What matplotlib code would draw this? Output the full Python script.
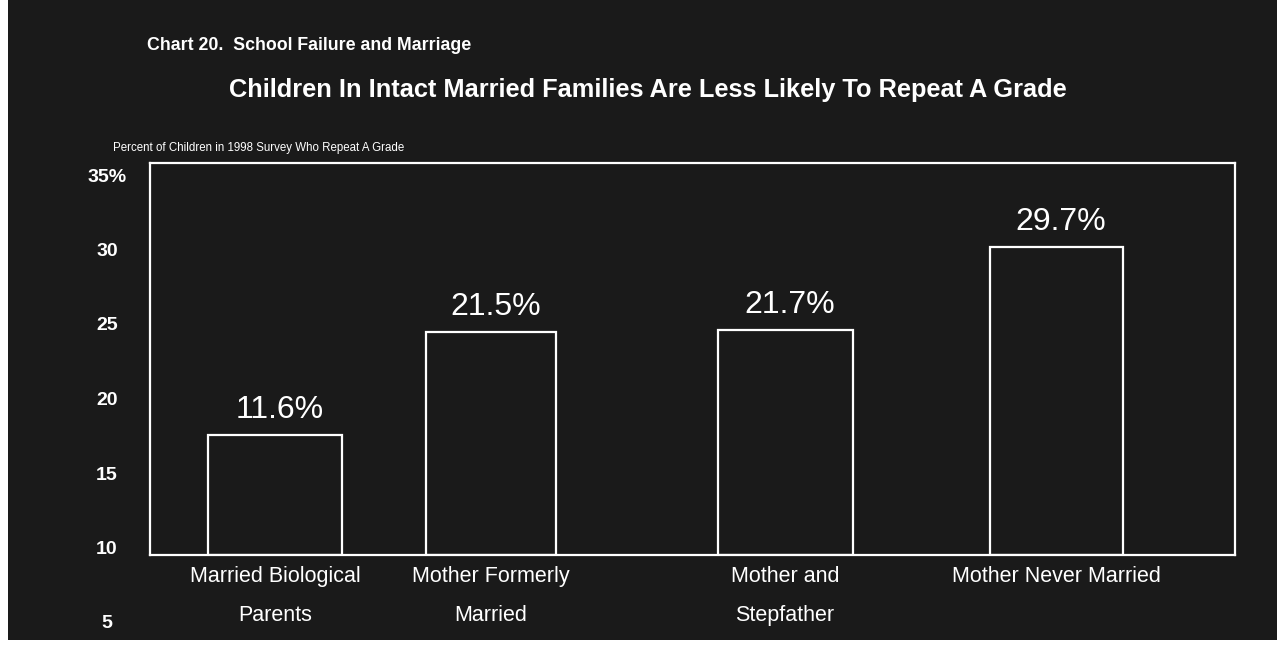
import matplotlib
matplotlib.use("Agg")
import matplotlib.pyplot as plt
from matplotlib.patches import Rectangle
from matplotlib import font_manager

# ---- data ----
categories = ["Married Biological\nParents", "Mother Formerly\nMarried",
              "Mother and\nStepfather", "Mother Never Married"]
values = [11.6, 21.5, 21.7, 29.7]
value_labels = ["11.6%", "21.5%", "21.7%", "29.7%"]
ytick_values = [5, 10, 15, 20, 25, 30, 35]
ytick_labels = ["5", "10", "15", "20", "25", "30", "35%"]
title1 = "Chart 20.  School Failure and Marriage"
title2 = "Children In Intact Married Families Are Less Likely To Repeat A Grade"
ylabel = "Percent of Children in 1998 Survey Who Repeat A Grade"

# ---- layout (pixels) ----
W, H = 1285, 649
names = {f.name for f in font_manager.fontManager.ttflist}
narrow = "Liberation Sans Narrow" if "Liberation Sans Narrow" in names else "Liberation Sans"
regular = "Liberation Sans"

fig = plt.figure(figsize=(W / 100, H / 100), dpi=100)
fig.patch.set_facecolor("white")
fig.patches.append(Rectangle((8 / W, 1 - 640 / H), 1269 / W, 640 / H,
                             transform=fig.transFigure, facecolor="#1a1a1a",
                             edgecolor="none", zorder=-10))

ax_l, ax_r, ax_t, ax_b = 150, 1235, 163, 555
ax = fig.add_axes([ax_l / W, 1 - ax_b / H, (ax_r - ax_l) / W, (ax_b - ax_t) / H])
ax.set_facecolor("none")
ax.set_xlim(0, ax_r - ax_l)
ax.set_ylim(0, 37.8)
bar_x = [125, 341, 635, 906]
bar_w = [134, 130, 135, 133]
ax.bar(bar_x, values, width=bar_w, facecolor="none", edgecolor="white", linewidth=1.6)
for x, v, lab in zip(bar_x, values, value_labels):
    ax.annotate(lab, (x + 5, v), xytext=(0, 7), textcoords="offset points",
                ha="center", va="bottom", color="white", fontsize=23, family=regular)
for s in ax.spines.values():
    s.set_color("white")
    s.set_linewidth(1.6)
ax.set_yticks([])
ax.set_xticks(bar_x)
ax.set_xticklabels(categories, color="white", fontsize=15.5, family=narrow,
                   linespacing=2.1)
ax.tick_params(axis="x", length=0, pad=8)

# tick labels axis (as in the original scan)
ax2 = fig.add_axes([ax_l / W, 1 - 622 / H, 0.0005, (622 - 175) / H])
ax2.set_facecolor("none")
ax2.set_ylim(5, 35)
ax2.set_yticks(ytick_values)
ax2.set_yticklabels(ytick_labels, color="white", fontsize=14, family=narrow,
                    fontweight="bold")
for t in ax2.get_yticklabels():
    t.set_horizontalalignment("center")
ax2.tick_params(axis="y", length=0, pad=31)
ax2.set_xticks([])
for s in ax2.spines.values():
    s.set_visible(False)

fig.text(147 / W, 1 - 45 / H, title1, color="white", fontsize=12.8,
         fontweight="bold", family=narrow, va="center", ha="left")
fig.text(229 / W, 1 - 90 / H, title2, color="white", fontsize=18.3,
         fontweight="bold", family=narrow, va="center", ha="left")
fig.text(113 / W, 1 - 148 / H, ylabel, color="white", fontsize=8.3,
         family=narrow, va="center", ha="left")

fig.savefig("out.png", dpi=100, facecolor=fig.get_facecolor())
